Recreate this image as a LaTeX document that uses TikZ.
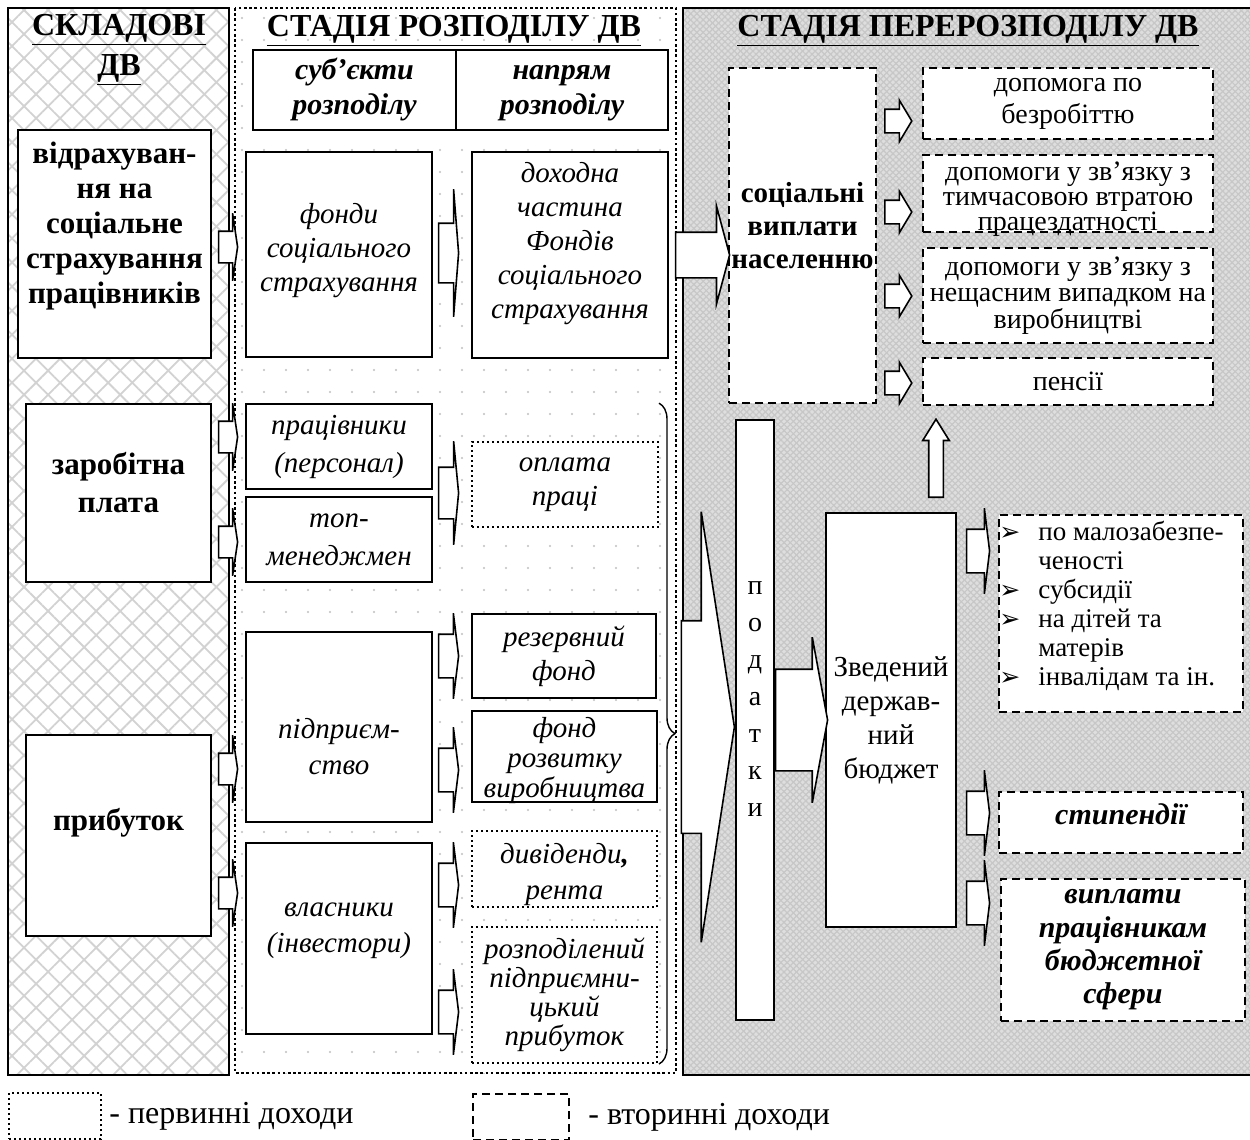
\documentclass[tikz,border=0pt]{standalone}
\usepackage{fontspec}
\setmainfont{Liberation Serif}
\newfontfamily\symfont{DejaVu Sans}
\usetikzlibrary{positioning,fit,calc,shapes.arrows,patterns.meta,decorations.pathreplacing}

\newcommand{\bul}{\makebox[19.5pt][l]{\symfont\fontsize{12.5}{12.5}\selectfont ➢}}
\newcommand{\nob}{\hspace*{19.5pt}}

\begin{document}
\begin{tikzpicture}[x=0.5pt, y=-0.5pt,
    solidbox/.style={draw, fill=white, line width=0.8pt, inner sep=0pt},
    dotbox/.style={solidbox, line width=1pt, dash pattern=on 1pt off 1.5pt},
    dashbox/.style={solidbox, line width=1pt, dash pattern=on 4pt off 2.5pt},
    hd/.style={font=\fontsize{16}{20}\selectfont\bfseries, align=center},
    bl/.style={font=\fontsize{15.5}{17.5}\selectfont\bfseries, align=center},
    it/.style={font=\fontsize{14.5}{17}\selectfont\itshape, align=center},
    bi/.style={font=\fontsize{15}{17.5}\selectfont\bfseries\itshape, align=center},
    rm/.style={font=\fontsize{14}{16}\selectfont, align=center},
    blk/.style n args={4}{single arrow, draw, fill=white, line width=0.8pt,
      inner xsep=0pt, inner ysep=#1, single arrow head extend=#2,
      single arrow tip angle=#3, minimum height=#4, anchor=tail}]
  \useasboundingbox (0,0) rectangle (1250,1140);

  % three stages
  \fill[white] (8,8) rectangle (229,1075);
  \fill[pattern={Lines[angle=45,distance=8.5pt,line width=0.9pt]}, pattern color=gray!35] (8,8) rectangle (229,1075);
  \fill[pattern={Lines[angle=-45,distance=8.5pt,line width=0.9pt]}, pattern color=gray!35] (8,8) rectangle (229,1075);
  \draw[line width=0.8pt] (8,8) rectangle (229,1075);

  \fill[white] (235,8) rectangle (676,1073);
  \fill[pattern={Dots[distance=11pt,radius=0.55pt]}, pattern color=gray!50] (235,8) rectangle (676,1073);
  \draw[line width=1.3pt, dash pattern=on 1.3pt off 1.3pt] (235,8) rectangle (676,1073);

  \fill[black!13] (683,8) rectangle (1260,1075);
  \fill[pattern={Lines[angle=45,distance=2.2pt,line width=0.6pt]}, pattern color=black!22] (683,8) rectangle (1260,1075);
  \fill[pattern={Lines[angle=-45,distance=2.2pt,line width=0.6pt]}, pattern color=black!22] (683,8) rectangle (1260,1075);
  \draw[line width=1pt] (1260,8) -- (683,8) -- (683,1075) -- (1260,1075);

  \node[hd] (hskl) at (119,50) {\underline{СКЛАДОВІ}\\\underline{ДВ}};
  \node[hd] (hroz) at (454,31) {\underline{СТАДІЯ РОЗПОДІЛУ ДВ}};
  \node[hd] (hper) at (968,31) {\underline{СТАДІЯ ПЕРЕРОЗПОДІЛУ ДВ}};

  \node[solidbox, fit={(253,50) (456,130)}, label={[bi]center:{\strut суб’єкти\\розподілу\strut}}] (subj) {};
  \node[solidbox, fit={(456,50) (668,130)}, label={[bi]center:{\strut напрям\\розподілу\strut}}] (napr) {};

  % components
  \node[solidbox, fit={(18,130) (211,358)},
        label={[bl, yshift=9pt]center:{відрахуван-\\ня на\\соціальне\\страхування\\працівників}}] (vidr) {};
  \node[solidbox, fit={(26,404) (211,582)},
        label={[bl, font=\fontsize{15.5}{19}\selectfont\bfseries, yshift=5pt]center:{заробітна\\плата}}] (zarp) {};
  \node[solidbox, fit={(26,735) (211,936)}, label={[bl, yshift=6.5pt]center:прибуток}] (prib) {};

  % distribution
  \node[solidbox, fit={(246,152) (432,357)}, label={[it, yshift=2pt]center:{фонди\\соціального\\страхування}}] (fond) {};
  \node[solidbox, fit={(246,404) (432,489)},
        label={[it, font=\fontsize{14.5}{19}\selectfont\itshape]center:{працівники\\(персонал)}}] (prac) {};
  \node[solidbox, fit={(246,497) (432,582)},
        label={[it, font=\fontsize{14.5}{19}\selectfont\itshape]center:{топ-\\менеджмен}}] (topm) {};
  \node[solidbox, fit={(246,632) (432,822)},
        label={[it, font=\fontsize{14.5}{18}\selectfont\itshape, yshift=-10pt]center:{підприєм-\\ство}}] (pidp) {};
  \node[solidbox, fit={(246,843) (432,1034)},
        label={[it, font=\fontsize{14.5}{18}\selectfont\itshape, yshift=4pt]center:{власники\\(інвестори)}}] (vlas) {};

  \node[solidbox, fit={(472,152) (668,358)},
        label={[it, yshift=5.5pt]center:{доходна\\частина\\Фондів\\соціального\\страхування}}] (dokh) {};
  \node[dotbox, fit={(472,442) (658,527)}, label={[it]center:{оплата\\праці}}] (opl) {};
  \node[solidbox, fit={(472,614) (656,698)}, label={[it]center:{резервний\\фонд}}] (rez) {};
  \node[solidbox, fit={(472,711) (657,802)},
        label={[it, font=\fontsize{14.5}{15}\selectfont\itshape, yshift=-2pt]center:{фонд\\розвитку\\виробництва}}] (rozv) {};
  \node[dotbox, fit={(472,831) (657,907)},
        label={[it, font=\fontsize{14.5}{18}\selectfont\itshape, yshift=-3pt]center:{дивіденди\textbf{,}\\рента}}] (dyv) {};
  \node[dotbox, fit={(472,927) (657,1063)},
        label={[it, font=\fontsize{14.5}{14.5}\selectfont\itshape]center:{розподілений\\підприємни-\\цький\\прибуток}}] (rpr) {};

  \draw[decorate, decoration={brace, amplitude=8pt}, line width=0.7pt] (opl.east |- prac.north) -- (opl.east |- rpr.south);

  % redistribution
  \node[dashbox, fit={(729,68) (876,403)},
        label={[bl, font=\fontsize{14.5}{16.5}\selectfont\bfseries, yshift=5pt]center:{соціальні\\виплати\\населенню}}] (soc) {};
  \node[dashbox, fit={(923,68) (1213,139)}, label={[rm]center:{допомога по\\безробіттю}}] (bezr) {};
  \node[dashbox, fit={(923,155) (1213,232)},
        label={[rm, font=\fontsize{14}{12.5}\selectfont, yshift=-3pt]center:{допомоги у зв’язку з\\тимчасовою втратою\\працездатності}}] (tymch) {};
  \node[dashbox, fit={(923,248) (1213,343)},
        label={[rm, font=\fontsize{14}{13.25}\selectfont]center:{допомоги у зв’язку з\\нещасним випадком на\\виробництві}}] (neshch) {};
  \node[dashbox, fit={(923,358) (1213,405)}, label={[rm]center:пенсії}] (pens) {};

  \node[solidbox, fit={(736,420) (774,1020)},
        label={[rm, font=\fontsize{14}{18.5}\selectfont, yshift=10.5pt]center:{п\\о\\д\\а\\т\\к\\и}}] (pod) {};
  \node[solidbox, fit={(826,513) (956,927)},
        label={[rm, font=\fontsize{14.5}{17}\selectfont]center:{Зведений\\держав-\\ний\\бюджет}}] (zved) {};

  \node[dashbox, fit={(999,515) (1243,712)}] (pilg) {};
  \node[rm, font=\fontsize{13.5}{14.5}\selectfont, align=left, anchor=west, inner sep=0pt] (pilgt) at (999,606)
       {\bul по малозабезпе-\\\nob ченості\\\bul субсидії\\\bul на дітей та\\\nob матерів\\\bul інвалідам та ін.};
  \node[dashbox, fit={(999,792) (1243,853)}, label={[bi, yshift=4pt]center:стипендії}] (styp) {};
  \node[dashbox, fit={(1001,879) (1245,1021)},
        label={[bi, font=\fontsize{15}{16.7}\selectfont\bfseries\itshape]center:{виплати\\працівникам\\бюджетної\\сфери}}] (vypl) {};

  % block arrows
  \foreach \y [count=\i] in {247,437,542,769,893}
    \node[blk={7.5pt}{9pt}{163}{9.5pt}] (a\i) at ($(vidr.east |- 0,\y)+(6,0)$) {};
  \node[blk={14.5pt}{17pt}{171}{10pt}] (b1) at ($(fond.east |- 0,253)+(5,0)$) {};
  \node[blk={12.5pt}{13pt}{169}{10pt}] (b2) at ($(fond.east |- 0,493)+(5,0)$) {};
  \foreach \y [count=\i from 3] in {656,770,885,1012}
    \node[blk={10.5pt}{10.5pt}{166}{10pt}] (b\i) at ($(fond.east |- 0,\y)+(5,0)$) {};
  \node[blk={11pt}{13pt}{150}{27pt}] (c1) at ($(dokh.east)+(6,0)$) {};
  \foreach \y [count=\i] in {121,212,296,383}
    \node[blk={5.5pt}{4.5pt}{118}{13.5pt}] (d\i) at ($(soc.east |- 0,\y)+(7,0)$) {};
  \node[blk={52.75pt}{54.5pt}{162.5}{26.5pt}, anchor=tip] (e1) at (pod.west |- 0,727) {};
  \node[blk={25pt}{16pt}{159}{26pt}] (f1) at (pod.east |- 0,720) {};
  \node[blk={3.25pt}{3pt}{64}{39pt}, inner xsep=3.25pt, shape border rotate=90] (g1) at (936,498) {};
  \foreach \y [count=\i] in {551,813,903}
    \node[blk={10.5pt}{10.5pt}{166}{11.5pt}] (h\i) at ($(zved.east |- 0,\y)+(9,0)$) {};

  % legend
  \node[dotbox, minimum width=46pt, minimum height=23pt, anchor=north west] (leg1) at (8,1092) {};
  \node[rm, font=\fontsize{16}{18}\selectfont, inner sep=0pt, right=3.5pt of leg1] (leg1t) {- первинні доходи};
  \node[dashbox, minimum width=48pt, minimum height=23pt, anchor=north west] (leg2) at (472,1093) {};
  \node[rm, font=\fontsize{16}{18}\selectfont, inner sep=0pt, right=9pt of leg2] (leg2t) {- вторинні доходи};
\end{tikzpicture}
\end{document}
